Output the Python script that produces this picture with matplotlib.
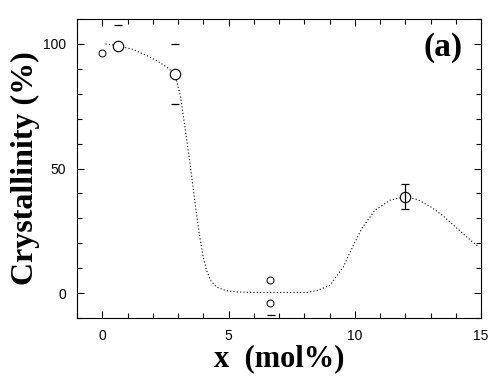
import matplotlib
matplotlib.use('Agg')
import matplotlib.pyplot as plt
from matplotlib.ticker import MultipleLocator

# measured points (open circles)
x_pts = [0.62, 2.87, 12.0]
y_pts = [99.3, 88.0, 38.7]

# small points (drawn as small "C" like circles)
xs_pts = [0.0, 6.64, 6.64]
ys_pts = [96.4, 5.2, -3.9]

# error bar caps whose bars are not drawn in the original
cap_x = [0.62, 2.87, 2.87, 6.70]
cap_y = [107.4, 100.0, 76.0, -8.8]

# full error bar at x = 12
eb_x = [12.0]
eb_y = [38.7]
eb_lo = [4.8]
eb_hi = [4.9]

# guide-to-the-eye curve
curve_x = [0.13, 0.62, 1.2, 1.75, 2.2, 2.54, 2.87, 3.1, 3.27, 3.46, 3.66,
           3.86, 4.0, 4.13, 4.3, 4.52, 4.9, 5.32, 6.0, 7.0, 8.1, 8.5, 9.02,
           9.55, 9.95, 10.28, 10.8, 11.4, 12.0, 12.5, 13.0, 13.5, 14.05, 14.5, 14.9]
curve_y = [100.0, 99.3, 97.8, 95.4, 93.0, 90.8, 88.0, 79.0, 66.8, 53.4, 37.3,
           22.6, 14.5, 9.2, 5.0, 2.5, 1.0, 0.5, 0.3, 0.3, 0.3, 1.0, 3.2,
           10.6, 19.3, 26.0, 33.3, 37.3, 38.7, 37.5, 34.7, 31.0, 26.0, 22.0, 18.6]

fig = plt.figure(figsize=(5.0, 3.87), dpi=100)
ax = fig.add_axes([0.154, 0.178, 0.808, 0.773])

ax.plot(curve_x, curve_y, color='black', lw=0.8, ls=(0, (1, 2)))
ax.plot(x_pts, y_pts, 'o', ms=7.5, mfc='white', mec='black', mew=0.8)
ax.plot(xs_pts, ys_pts, 'o', ms=5, mfc='white', mec='black', mew=0.7)
ax.errorbar(eb_x, eb_y, yerr=[eb_lo, eb_hi], fmt='none', ecolor='black',
            elinewidth=0.9, capsize=3, capthick=0.9)
ax.plot(cap_x, cap_y, '_', ms=6, mew=0.9, color='black')

ax.set_xlim(-1, 15)
ax.set_ylim(-10, 110)
ax.xaxis.set_major_locator(MultipleLocator(5))
ax.xaxis.set_minor_locator(MultipleLocator(1))
ax.yaxis.set_major_locator(MultipleLocator(50))
ax.yaxis.set_minor_locator(MultipleLocator(10))
ax.tick_params(which='both', direction='in', top=True, right=True, width=0.8,
               labelsize=10, colors='black')
ax.tick_params(which='major', length=5, pad=8)
ax.tick_params(which='minor', length=3.5)
for lab in ax.get_xticklabels() + ax.get_yticklabels():
    lab.set_family('Liberation Sans')
for sp in ax.spines.values():
    sp.set_linewidth(0.8)

ax.set_xlabel('x  (mol%)', family='Liberation Serif', fontweight='bold',
              fontsize=22, labelpad=1)
ax.set_ylabel('Crystallinity (%)', family='Liberation Serif', fontweight='bold',
              fontsize=23, labelpad=2)
ax.text(0.906, 0.906, '(a)', transform=ax.transAxes, ha='center', va='center',
        family='Liberation Serif', fontweight='bold', fontsize=24)

fig.savefig('out.png', dpi=100)
